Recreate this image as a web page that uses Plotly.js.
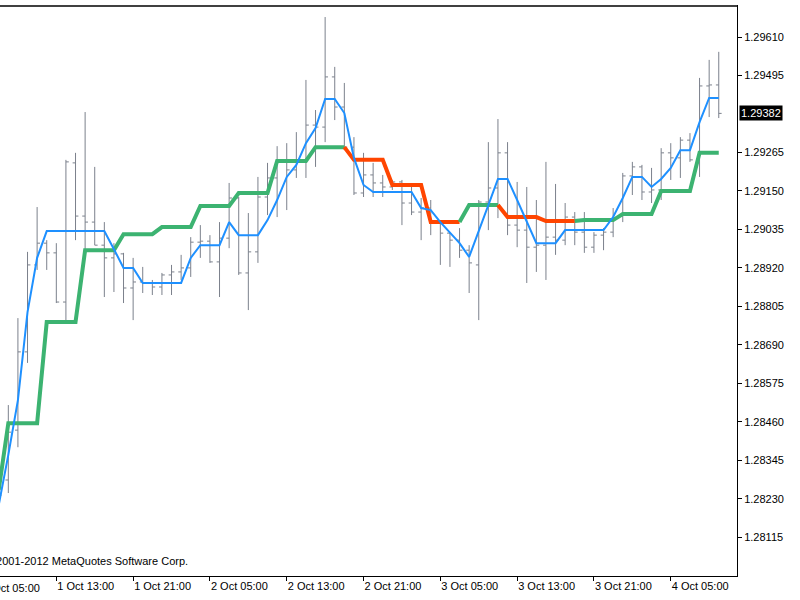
<!DOCTYPE html>
<html><head><meta charset="utf-8">
<script src="https://cdn.plot.ly/plotly-3.0.1.min.js"></script>
<style>html,body{margin:0;padding:0;background:#fff;}#chart{width:800px;height:600px;}</style>
</head><body><div id="chart"></div>
<script>
// Hourly bars, first visible bar 2012-10-01 07:00
const openPrices = [
 1.28196,1.28286,1.28435,1.28669,1.28929,1.28994,1.28965,1.28818,1.29234,1.29075,
 1.29057,1.28988,1.28950,1.28962,1.28860,1.28878,1.28875,1.28863,1.28899,1.28908,
 1.28920,1.28997,1.29000,1.28938,1.29009,1.29129,1.28905,1.28968,1.29132,1.29189,
 1.29237,1.29213,1.29243,1.29347,1.29341,1.29491,1.29401,1.29281,1.29144,1.29198,
 1.29174,1.29162,1.29177,1.29114,1.29087,1.29099,1.29057,1.29024,1.29003,1.28973,
 1.28929,1.29117,1.29159,1.29264,1.29048,1.29033,1.28982,1.28988,1.29012,1.29003,
 1.29072,1.29027,1.28982,1.29018,1.29027,1.29075,1.29195,1.29222,1.29147,1.29153,
 1.29264,1.29249,1.29302,1.29243,1.29464,1.29467];
const highPrices = [
 1.28316,1.28510,1.28770,1.28968,1.29102,1.29003,1.28994,1.29243,1.29264,1.29386,
 1.29222,1.29057,1.28994,1.28965,1.28950,1.28923,1.28884,1.28905,1.28929,1.28959,
 1.29012,1.29048,1.29018,1.29057,1.29174,1.29132,1.29084,1.29192,1.29234,1.29284,
 1.29293,1.29326,1.29482,1.29392,1.29670,1.29521,1.29473,1.29311,1.29264,1.29234,
 1.29198,1.29183,1.29183,1.29168,1.29129,1.29123,1.29060,1.29027,1.29039,1.28988,
 1.29123,1.29296,1.29365,1.29296,1.29177,1.29162,1.29123,1.29237,1.29171,1.29114,
 1.29087,1.29087,1.29027,1.29039,1.29099,1.29204,1.29237,1.29228,1.29219,1.29278,
 1.29293,1.29311,1.29323,1.29488,1.29542,1.29566];
const lowPrices = [
 1.28151,1.28247,1.28384,1.28636,1.28914,1.28914,1.28815,1.28755,1.29003,1.28973,
 1.28988,1.28833,1.28848,1.28815,1.28764,1.28845,1.28839,1.28839,1.28839,1.28884,
 1.28893,1.28950,1.28935,1.28833,1.28979,1.28899,1.28794,1.28935,1.29078,1.29072,
 1.29093,1.29189,1.29189,1.29222,1.29296,1.29362,1.29272,1.29138,1.29132,1.29132,
 1.29132,1.29153,1.29048,1.29078,1.29003,1.29018,1.28929,1.28923,1.28950,1.28845,
 1.28764,1.29033,1.29069,1.29018,1.28982,1.28875,1.28908,1.28884,1.28959,1.28988,
 1.28988,1.28965,1.28965,1.28973,1.29012,1.29057,1.29138,1.29123,1.29114,1.29123,
 1.29183,1.29189,1.29237,1.29192,1.29371,1.29368];
const closePrices = [
 1.28241,1.28429,1.28669,1.28929,1.28994,1.28965,1.28818,1.29237,1.29075,1.29057,
 1.28988,1.28950,1.28962,1.28860,1.28878,1.28875,1.28863,1.28899,1.28908,1.28920,
 1.28997,1.29000,1.28938,1.29009,1.29129,1.28905,1.28968,1.29132,1.29189,1.29237,
 1.29213,1.29243,1.29347,1.29341,1.29491,1.29401,1.29281,1.29144,1.29198,1.29174,
 1.29162,1.29177,1.29114,1.29087,1.29099,1.29057,1.29024,1.29003,1.28973,1.28935,
 1.29117,1.29159,1.29264,1.29048,1.29033,1.28982,1.28988,1.29012,1.29003,1.29072,
 1.29027,1.28982,1.29018,1.29027,1.29069,1.29195,1.29222,1.29147,1.29153,1.29264,
 1.29249,1.29302,1.29243,1.29464,1.29467,1.29382];
const blueLine = [
 1.28211,1.28361,1.28525,1.28788,1.28950,1.29030,1.29030,1.29030,1.29030,1.29030,
 1.29030,1.29030,1.28976,1.28920,1.28920,1.28875,1.28875,1.28875,1.28875,1.28875,
 1.28950,1.28988,1.28988,1.28988,1.29057,1.29018,1.29018,1.29018,1.29063,1.29123,
 1.29192,1.29228,1.29293,1.29338,1.29425,1.29425,1.29383,1.29249,1.29168,1.29147,
 1.29147,1.29147,1.29147,1.29147,1.29099,1.29093,1.29057,1.29027,1.28994,1.28953,
 1.29033,1.29108,1.29186,1.29186,1.29123,1.29060,1.28994,1.28994,1.28994,1.29033,
 1.29033,1.29033,1.29033,1.29033,1.29072,1.29129,1.29192,1.29192,1.29162,1.29186,
 1.29219,1.29272,1.29272,1.29356,1.29428,1.29428];
const stepLine = [
 1.28256,1.28456,1.28456,1.28456,1.28456,1.28758,1.28758,1.28758,1.28758,1.28973,
 1.28973,1.28973,1.28973,1.29021,1.29021,1.29021,1.29021,1.29042,1.29042,1.29042,
 1.29042,1.29105,1.29105,1.29105,1.29105,1.29144,1.29144,1.29144,1.29144,1.29240,
 1.29240,1.29240,1.29240,1.29281,1.29281,1.29281,1.29281,1.29243,1.29243,1.29243,
 1.29243,1.29168,1.29168,1.29168,1.29168,1.29057,1.29057,1.29057,1.29057,1.29108,
 1.29108,1.29108,1.29108,1.29072,1.29072,1.29072,1.29072,1.29060,1.29060,1.29060,
 1.29060,1.29063,1.29063,1.29063,1.29063,1.29081,1.29081,1.29081,1.29081,1.29150,
 1.29150,1.29150,1.29150,1.29264,1.29264,1.29264];
const yTickValues = [1.28115,1.28230,1.28345,1.28460,1.28575,1.28690,1.28805,1.28920,1.29035,1.29150,1.29265,1.29495,1.29610];
const currentPrice = 1.29382;
const copyrightText = '\u00a92001-2012 MetaQuotes Software Corp.';

function hourLabel(k){
  const d = new Date(Date.UTC(2012,9,1,7) + k*3600000);
  const p = n => String(n).padStart(2,'0');
  return d.getUTCFullYear()+'-'+p(d.getUTCMonth()+1)+'-'+p(d.getUTCDate())+' '+p(d.getUTCHours())+':00';
}
const times = openPrices.map((_,k)=>hourLabel(k));

const traces = [{
  type:'ohlc', x:times, open:openPrices, high:highPrices, low:lowPrices, close:closePrices,
  increasing:{line:{color:'#7b818c', width:1}}, decreasing:{line:{color:'#7b818c', width:1}},
  tickwidth:0.3, hoverinfo:'skip', showlegend:false
}];

// split step line into up (green) / down (red) runs
const runs = [];
let cur = {c: stepLine[1] >= stepLine[0] ? 'up':'down', xs:[times[0]], ys:[stepLine[0]]};
for (let k=1;k<stepLine.length;k++){
  const c = stepLine[k] > stepLine[k-1] ? 'up' : (stepLine[k] < stepLine[k-1] ? 'down' : cur.c);
  if (c !== cur.c){ runs.push(cur); cur = {c, xs:[times[k-1]], ys:[stepLine[k-1]]}; }
  cur.xs.push(times[k]); cur.ys.push(stepLine[k]);
}
runs.push(cur);
runs.forEach(r => traces.push({
  type:'scatter', mode:'lines', x:r.xs, y:r.ys, hoverinfo:'skip', showlegend:false,
  line:{color: r.c==='up' ? '#3cb371' : '#ff4500', width:4}
}));
traces.push({type:'scatter', mode:'lines', x:times, y:blueLine, hoverinfo:'skip', showlegend:false,
  line:{color:'#1e90ff', width:2}});

const layout = {
  width:800, height:600, margin:{l:0, r:63, t:6, b:24},
  paper_bgcolor:'#ffffff', plot_bgcolor:'#ffffff', showlegend:false,
  font:{family:'"Liberation Sans", Arial, sans-serif', size:11, color:'#000'},
  xaxis:{type:'date', range:['2012-10-01 07:08','2012-10-04 11:54'], rangeslider:{visible:false},
    showgrid:false, zeroline:false, showline:true, linecolor:'#000', linewidth:1, mirror:true,
    ticks:'outside', ticklen:4, tickcolor:'#000', tick0:'2012-10-01 05:00', dtick:8*3600000,
    tickformat:'%-d %b %H:%M', ticklabelposition:'outside right', fixedrange:true},
  yaxis:{side:'right', range:[1.27999,1.29703], tickvals:yTickValues, ticktext:yTickValues.map(v=>v.toFixed(5)),
    showgrid:false, zeroline:false, showline:true, linecolor:'#000', linewidth:1,
    ticks:'outside', ticklen:4, tickcolor:'#000', fixedrange:true},
  shapes:[{type:'line', xref:'paper', yref:'paper', x0:0, x1:1, y0:1, y1:1, line:{color:'#404040', width:2}}],
  annotations:[
    {xref:'paper', yref:'y', x:1, y:currentPrice, xanchor:'left', yanchor:'middle', xshift:2, showarrow:false,
     text:currentPrice.toFixed(5), bgcolor:'#000', borderpad:1, font:{color:'#fff', size:11}},
    {xref:'paper', yref:'paper', x:190/737, y:0.012, xanchor:'right', yanchor:'bottom', showarrow:false,
     text:copyrightText, font:{size:11, color:'#000'}},
    {xref:'paper', yref:'paper', x:-20/737, y:0, xanchor:'left', yanchor:'top', xshift:1, yshift:-4, showarrow:false,
     text:'1 Oct 05:00', font:{size:11, color:'#000'}}
  ]
};
Plotly.newPlot('chart', traces, layout, {staticPlot:true, displayModeBar:false});
</script></body></html>
